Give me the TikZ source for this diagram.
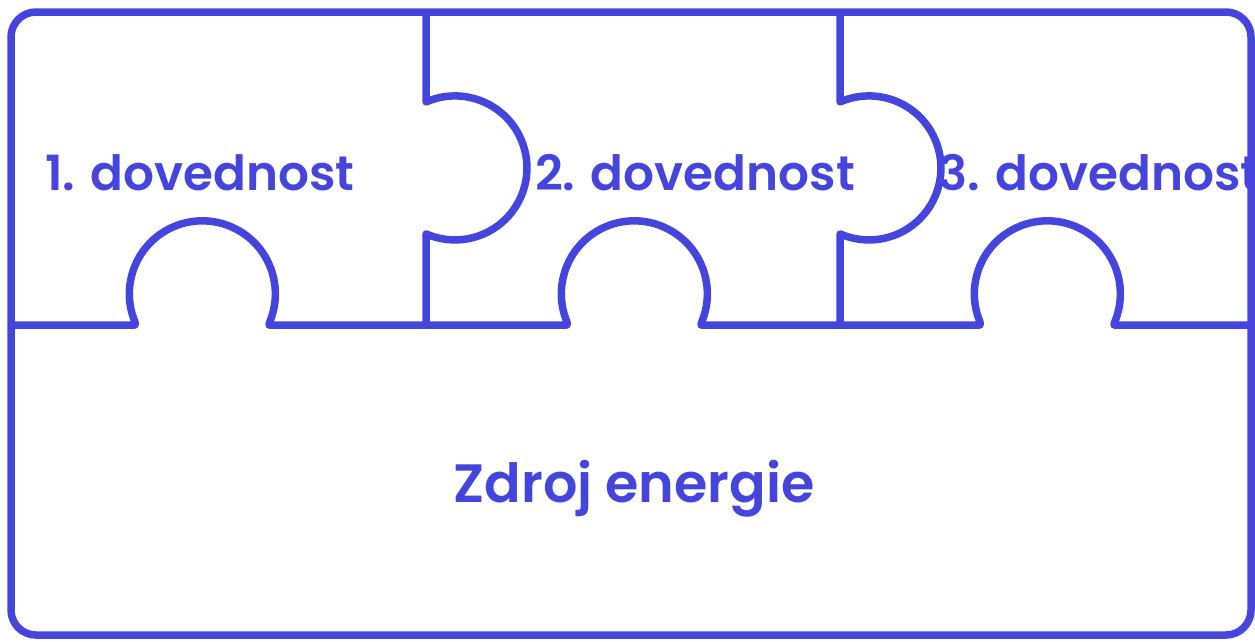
\documentclass[tikz,border=0pt]{standalone}
\usepackage{fontspec}
\setmainfont{Poppins}[BoldFont={Poppins SemiBold}]
\definecolor{pz}{RGB}{69,69,221}
\tikzset{
  pline/.style={draw=pz, line width=7.5pt, line join=round},
  plabel/.style={text=pz, font=\fontsize{48.5}{52}\selectfont\bfseries, anchor=base, inner sep=0pt}
}
\begin{document}
\begin{tikzpicture}[x=1pt,y=-1pt]
\useasboundingbox (0,0) rectangle (1255,641);
% labels (drawn first: the outlines lie over them)
\node[plabel] (s1) at (200,190) {1. dovednost};
\node[plabel] (s2) at (695,190) {2. dovednost};
\node[plabel] (s3) at (1099,190) {3. dovednost};
\node[plabel, font=\fontsize{54}{58}\selectfont\bfseries] (src) at (634,502) {Zdroj energie};
% outer frame
\draw[pline, rounded corners=25pt] (11,12) rectangle (1251,635);
% horizontal seam with bottom knobs
\draw[pline] (11,325) -- (135,325) -- (135,322)
  arc[start angle=157.3, end angle=382.7, radius=73] -- (269,325)
  -- (567,325) -- (567,322)
  arc[start angle=157.3, end angle=382.7, radius=73] -- (701,325)
  -- (980,325) -- (980,322)
  arc[start angle=157.3, end angle=382.7, radius=73] -- (1114,325)
  -- (1251,325);
% vertical seams with side knobs
\draw[pline] (426,12) -- (426,102)
  arc[start angle=246.3, end angle=473.7, radius=72] -- (426,325);
\draw[pline] (840,12) -- (840,102)
  arc[start angle=246.3, end angle=473.7, radius=72] -- (840,325);
\end{tikzpicture}
\end{document}
